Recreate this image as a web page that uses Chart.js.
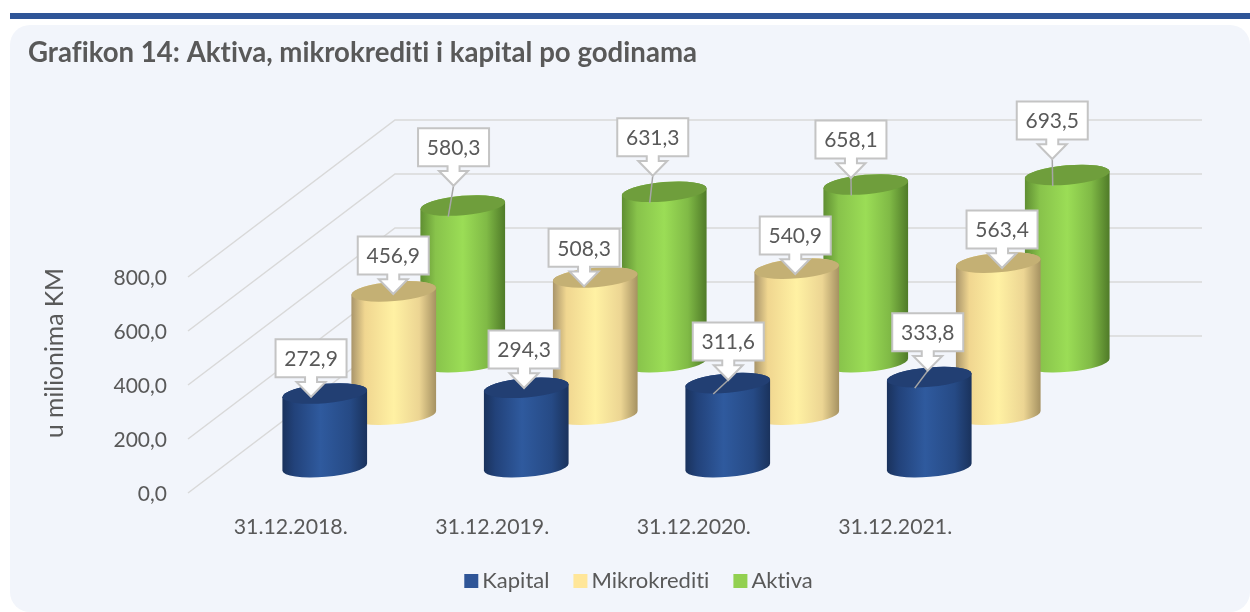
<!DOCTYPE html>
<html>
<head>
<meta charset="utf-8">
<style>html,body{margin:0;padding:0;background:#fff}canvas{display:block}</style>
<script src="https://cdn.jsdelivr.net/npm/chart.js@4/dist/chart.umd.js"></script>
</head>
<body>
<canvas id="c" width="1250" height="612"></canvas>
<script>
const categories = ['31.12.2018.', '31.12.2019.', '31.12.2020.', '31.12.2021.'];
const kapital = [272.9, 294.3, 311.6, 333.8];
const mikrokrediti = [456.9, 508.3, 540.9, 563.4];
const aktiva = [580.3, 631.3, 658.1, 693.5];
const yTicks = [0, 200, 400, 600, 800];
const yAxisTitle = 'u milionima KM';

const FONT = 'Lato';
const TEXT = '#595959';
const DEPTH = { x0: 34, y0: 26.8, dx: 69, dy: 52.5 };
const WALL = { dx: 207, dy: 158, rightEnd: 1202 };

const looks = [
  { legend: '#2f5597', top: '#223f73',
    side: [[0,'#1a325c'],[0.14,'#22427a'],[0.45,'#2f5a9e'],[0.8,'#264a85'],[1,'#1a325c']] },
  { legend: '#ffe699', top: '#c4b074',
    side: [[0,'#a8946a'],[0.16,'#f0d690'],[0.5,'#fff1a3'],[0.8,'#ecd593'],[1,'#a59161']] },
  { legend: '#92d050', top: '#6f9e3c',
    side: [[0,'#5f8e32'],[0.18,'#88c34b'],[0.5,'#9bdd56'],[0.78,'#80ba46'],[1,'#4f7a28']] }
];
/* callout tip offset from the centre of each cylinder's top, and whether a leader line shows */
const tipOffsets = [
  [[-13.7,3.2],[-2.2,0.3],[0.5,-3.1],[-1.5,-6.4]],
  [[-0.5,2.7],[-11.2,8.9],[-1.5,5.3],[3.8,5.4]],
  [[-9.2,-19.8],[-11.5,-16],[-14.8,-6.5],[-15,-16]]
];
const leaders = [[false,false,true,true],[false,false,false,false],[true,true,true,true]];
const ANCHOR = { dx: -14.5, dy: 11 };

function fmt(v) { return v.toFixed(1).replace('.', ','); }

function topCentre(meta, d, i) {
  const el = meta.data[i];
  return {
    x: el.x + DEPTH.x0 + DEPTH.dx * d,
    top: el.y - DEPTH.y0 - DEPTH.dy * d,
    bottom: el.base - DEPTH.y0 - DEPTH.dy * d,
    a: el.width / 2
  };
}

function drawCylinder(ctx, c, look) {
  const b = 9.7, rot = -0.085;
  const g = ctx.createLinearGradient(c.x - c.a, 0, c.x + c.a, 0);
  look.side.forEach(s => g.addColorStop(s[0], s[1]));
  ctx.beginPath();
  ctx.ellipse(c.x, c.bottom, c.a, b, rot, 0, Math.PI);
  ctx.ellipse(c.x, c.top, c.a, b, rot, Math.PI, Math.PI * 2);
  ctx.closePath();
  ctx.fillStyle = g;
  ctx.fill();
  ctx.beginPath();
  ctx.ellipse(c.x, c.top, c.a, b, rot, 0, Math.PI * 2);
  ctx.fillStyle = look.top;
  ctx.fill();
}

function drawCallout(ctx, text, tx, ty) {
  const w = 71, h = 38, gap = 19.5, neck = 6, head = 14.5, neckLen = 4.7;
  const l = tx - w / 2, r = tx + w / 2, bot = ty - gap, top = bot - h;
  ctx.beginPath();
  ctx.moveTo(l, top); ctx.lineTo(r, top); ctx.lineTo(r, bot);
  ctx.lineTo(tx + neck, bot); ctx.lineTo(tx + neck, bot + neckLen);
  ctx.lineTo(tx + head, bot + neckLen); ctx.lineTo(tx, ty);
  ctx.lineTo(tx - head, bot + neckLen); ctx.lineTo(tx - neck, bot + neckLen);
  ctx.lineTo(tx - neck, bot); ctx.lineTo(l, bot);
  ctx.closePath();
  ctx.fillStyle = '#fff'; ctx.fill();
  ctx.strokeStyle = '#c4c4c4'; ctx.lineWidth = 2; ctx.lineJoin = 'miter'; ctx.stroke();
  ctx.fillStyle = TEXT;
  ctx.font = '21px ' + FONT;
  ctx.textAlign = 'center'; ctx.textBaseline = 'middle';
  ctx.fillText(text, tx, top + h / 2 + 1);
}

const scene = {
  id: 'scene',
  beforeDraw(chart) {
    const ctx = chart.ctx;
    ctx.letterSpacing = '0.01px'; /* turns the ti / fi ligatures off */
    ctx.save();
    ctx.fillStyle = '#2f5597';
    ctx.fillRect(10, 13, 1240, 6);
    ctx.fillStyle = '#f2f5fb';
    ctx.beginPath();
    ctx.roundRect(10, 25, 1240, 587, 20);
    ctx.fill();
    ctx.restore();
  },
  beforeDatasetsDraw(chart) {
    const ctx = chart.ctx, y = chart.scales.y, left = chart.chartArea.left - 2;
    ctx.save();
    ctx.strokeStyle = '#d9d9d9'; ctx.lineWidth = 1.5;
    yTicks.forEach(v => {
      const py = y.getPixelForValue(v) - 1;
      ctx.beginPath();
      ctx.moveTo(left, py);
      ctx.lineTo(left + WALL.dx, py - WALL.dy + 1);
      ctx.lineTo(WALL.rightEnd, py - WALL.dy + 1);
      ctx.stroke();
    });
    ctx.translate(55, 353);
    ctx.rotate(-Math.PI / 2);
    ctx.font = '24.7px ' + FONT;
    ctx.fillStyle = TEXT;
    ctx.textAlign = 'center'; ctx.textBaseline = 'middle';
    ctx.fillText(yAxisTitle, 0, 0);
    ctx.restore();
  },
  beforeDatasetDraw(chart, args) {
    const d = args.index, ctx = chart.ctx;
    ctx.save();
    args.meta.data.forEach((el, i) => drawCylinder(ctx, topCentre(args.meta, d, i), looks[d]));
    ctx.restore();
    return false;
  },
  afterDatasetsDraw(chart) {
    const ctx = chart.ctx;
    ctx.save();
    chart.data.datasets.forEach((ds, d) => {
      const meta = chart.getDatasetMeta(d);
      ds.data.forEach((v, i) => {
        const c = topCentre(meta, d, i);
        const tx = c.x + tipOffsets[d][i][0], ty = c.top + tipOffsets[d][i][1];
        if (leaders[d][i]) {
          ctx.beginPath();
          ctx.moveTo(tx, ty);
          ctx.lineTo(c.x + ANCHOR.dx, c.top + ANCHOR.dy);
          ctx.strokeStyle = '#a6a6a6'; ctx.lineWidth = 1.5;
          ctx.stroke();
        }
      });
    });
    chart.data.datasets.forEach((ds, d) => {
      const meta = chart.getDatasetMeta(d);
      ds.data.forEach((v, i) => {
        const c = topCentre(meta, d, i);
        drawCallout(ctx, fmt(v), c.x + tipOffsets[d][i][0], c.top + tipOffsets[d][i][1]);
      });
    });
    /* legend */
    ctx.font = '22px ' + FONT;
    ctx.textBaseline = 'middle'; ctx.textAlign = 'left';
    const box = 14, gap = 4, sep = 24, cy = 581;
    const widths = chart.data.datasets.map(ds => ctx.measureText(ds.label).width);
    const total = widths.reduce((a, w) => a + box + gap + w, 0) + sep * 2;
    let x = 638.5 - total / 2;
    chart.data.datasets.forEach((ds, d) => {
      ctx.fillStyle = looks[d].legend;
      ctx.fillRect(x, cy - box / 2, box, box);
      ctx.fillStyle = TEXT;
      ctx.fillText(ds.label, x + box + gap, cy);
      x += box + gap + widths[d] + sep;
    });
    ctx.restore();
  }
};

new Chart(document.getElementById('c'), {
  type: 'bar',
  data: {
    labels: categories,
    datasets: [
      { label: 'Kapital', data: kapital, backgroundColor: looks[0].legend },
      { label: 'Mikrokrediti', data: mikrokrediti, backgroundColor: looks[1].legend },
      { label: 'Aktiva', data: aktiva, backgroundColor: looks[2].legend }
    ]
  },
  plugins: [scene],
  options: {
    responsive: false,
    animation: false,
    devicePixelRatio: 1,
    grouped: false,
    barPercentage: 0.4218,
    categoryPercentage: 1,
    layout: { padding: { left: 28, right: 254, top: 0, bottom: 50 } },
    plugins: {
      legend: { display: false },
      tooltip: { enabled: false },
      title: {
        display: true,
        text: 'Grafikon 14: Aktiva, mikrokrediti i kapital po godinama',
        align: 'start',
        color: TEXT,
        font: { family: FONT, size: 27.6, weight: 'bold' },
        padding: { top: 37, bottom: 207.9 }
      }
    },
    scales: {
      x: {
        grid: { display: false },
        border: { display: false },
        ticks: { color: TEXT, font: { family: FONT, size: 21.3 }, padding: 12, maxRotation: 0 },
        afterFit(s) { s.height = 68; }
      },
      y: {
        min: 0, max: 800,
        grid: { display: false, drawTicks: false },
        border: { display: false },
        afterBuildTicks(s) { s.ticks = yTicks.map(v => ({ value: v })); },
        ticks: { color: TEXT, font: { family: FONT, size: 21 }, padding: 23, callback: v => fmt(v) },
        afterFit(s) { s.width = 162; }
      }
    }
  }
});
</script>
</body>
</html>
